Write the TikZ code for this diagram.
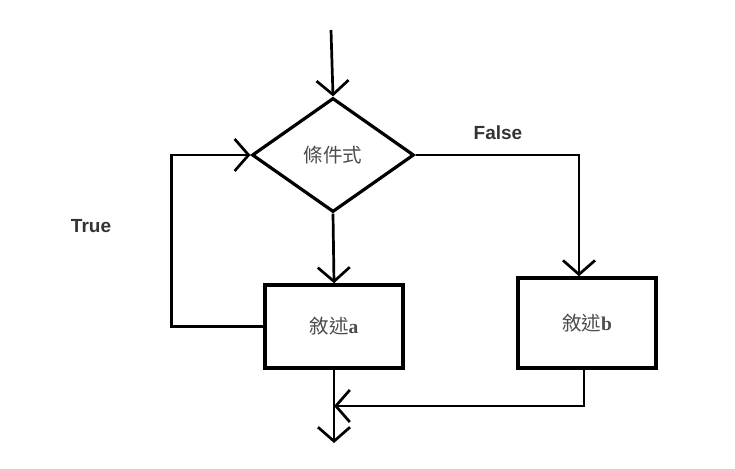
\documentclass[tikz,border=0pt]{standalone}
\usepackage{fontspec}
\setmainfont{Liberation Serif}
\newfontfamily\cjk{Noto Sans CJK TC}
\newfontfamily\lbl{Liberation Sans}
\usetikzlibrary{arrows.meta, shapes.geometric}

\begin{document}
\begin{tikzpicture}[x=1pt, y=1pt, line width=2.7pt,
		>={Straight Barb[length=14pt, width=32pt]},
		txt/.style={text=black!70, font=\cjk\fontsize{19.5}{22}\selectfont},
		stmt/.style={draw, rectangle, inner sep=0pt, line width=3.6pt, txt},
		tf/.style={text=black!80, font=\lbl\bfseries\fontsize{19}{22}\selectfont}]
			\useasboundingbox (0,0) rectangle (735,468);

			\node [draw, diamond, minimum width=162pt, minimum height=114pt, inner sep=0pt, line width=3.2pt, txt] (cond) at (333,313) {條件式};
			\node [stmt, minimum width=138pt, minimum height=83pt] (sa) at (334,141.5) {敘述{\rmfamily\bfseries a}};
			\node [stmt, minimum width=138pt, minimum height=90pt] (sb) at (587,145) {敘述{\rmfamily\bfseries b}};

			\node [tf] (true) at (91,242) {True};
			\node [tf] (false) at (498,335) {False};

			\coordinate (start) at (331,438);
			\coordinate (join) at (sa.south |- 0,62);
			\coordinate (end) at (sa.south |- 0,25);

			\begin{scope}[->]
				\draw (start) -- (cond.north);
				\draw (cond.south) -- (sa.north);
				\draw (cond.east) -| ([xshift=-8pt]sb.north);
				\draw (sa.west) -- ++(-92,0) |- (cond.west);
				\draw ([xshift=-3pt]sb.south) |- (join);
				\draw (sa.south) -- (end);
			\end{scope}
		\end{tikzpicture}
\end{document}
